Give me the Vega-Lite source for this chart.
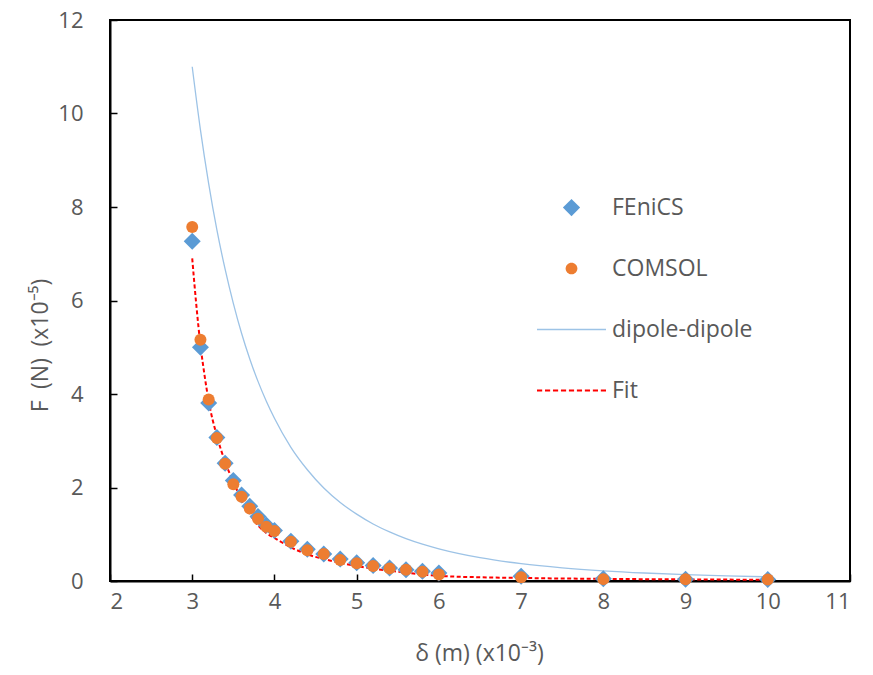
{
  "$schema": "https://vega.github.io/schema/vega-lite/v6.json",
  "width": 740,
  "height": 561,
  "autosize": "none",
  "padding": {"left": 110, "top": 20, "right": 23, "bottom": 94},
  "background": "white",
  "config": {
    "view": {"stroke": "black", "strokeWidth": 2},
    "font": "Open Sans",
    "axis": {"grid": false, "domainColor": "black", "domainWidth": 2, "tickColor": "black", "tickWidth": 1.5, "labelColor": "#595959", "titleColor": "#595959", "labelFont": "Open Sans", "titleFont": "Open Sans", "labelFontSize": 22, "titleFontSize": 23, "titleFontWeight": "normal"}
  },
  "data": {
    "values": [
      {"series": "FEniCS", "x": 3.0, "y": 7.27},
      {"series": "FEniCS", "x": 3.1, "y": 5.00},
      {"series": "FEniCS", "x": 3.2, "y": 3.81},
      {"series": "FEniCS", "x": 3.3, "y": 3.07},
      {"series": "FEniCS", "x": 3.4, "y": 2.52},
      {"series": "FEniCS", "x": 3.5, "y": 2.15},
      {"series": "FEniCS", "x": 3.6, "y": 1.84},
      {"series": "FEniCS", "x": 3.7, "y": 1.60},
      {"series": "FEniCS", "x": 3.8, "y": 1.38},
      {"series": "FEniCS", "x": 3.9, "y": 1.20},
      {"series": "FEniCS", "x": 4.0, "y": 1.08},
      {"series": "FEniCS", "x": 4.2, "y": 0.85},
      {"series": "FEniCS", "x": 4.4, "y": 0.68},
      {"series": "FEniCS", "x": 4.6, "y": 0.58},
      {"series": "FEniCS", "x": 4.8, "y": 0.47},
      {"series": "FEniCS", "x": 5.0, "y": 0.39},
      {"series": "FEniCS", "x": 5.2, "y": 0.33},
      {"series": "FEniCS", "x": 5.4, "y": 0.28},
      {"series": "FEniCS", "x": 5.6, "y": 0.24},
      {"series": "FEniCS", "x": 5.8, "y": 0.21},
      {"series": "FEniCS", "x": 6.0, "y": 0.17},
      {"series": "FEniCS", "x": 7.0, "y": 0.10},
      {"series": "FEniCS", "x": 8.0, "y": 0.05},
      {"series": "FEniCS", "x": 9.0, "y": 0.04},
      {"series": "FEniCS", "x": 10.0, "y": 0.03},
      {"series": "COMSOL", "x": 3.0, "y": 7.57},
      {"series": "COMSOL", "x": 3.1, "y": 5.16},
      {"series": "COMSOL", "x": 3.2, "y": 3.88},
      {"series": "COMSOL", "x": 3.3, "y": 3.06},
      {"series": "COMSOL", "x": 3.4, "y": 2.51},
      {"series": "COMSOL", "x": 3.5, "y": 2.07},
      {"series": "COMSOL", "x": 3.6, "y": 1.80},
      {"series": "COMSOL", "x": 3.7, "y": 1.55},
      {"series": "COMSOL", "x": 3.8, "y": 1.33},
      {"series": "COMSOL", "x": 3.9, "y": 1.16},
      {"series": "COMSOL", "x": 4.0, "y": 1.07},
      {"series": "COMSOL", "x": 4.2, "y": 0.84},
      {"series": "COMSOL", "x": 4.4, "y": 0.66},
      {"series": "COMSOL", "x": 4.6, "y": 0.58},
      {"series": "COMSOL", "x": 4.8, "y": 0.45},
      {"series": "COMSOL", "x": 5.0, "y": 0.38},
      {"series": "COMSOL", "x": 5.2, "y": 0.32},
      {"series": "COMSOL", "x": 5.4, "y": 0.27},
      {"series": "COMSOL", "x": 5.6, "y": 0.24},
      {"series": "COMSOL", "x": 5.8, "y": 0.20},
      {"series": "COMSOL", "x": 6.0, "y": 0.14},
      {"series": "COMSOL", "x": 7.0, "y": 0.08},
      {"series": "COMSOL", "x": 8.0, "y": 0.04},
      {"series": "COMSOL", "x": 9.0, "y": 0.035},
      {"series": "COMSOL", "x": 10.0, "y": 0.03},
      {"series": "dipole-dipole", "x": 3.0, "y": 11.0},
      {"series": "dipole-dipole", "x": 3.1, "y": 9.65},
      {"series": "dipole-dipole", "x": 3.2, "y": 8.50},
      {"series": "dipole-dipole", "x": 3.3, "y": 7.51},
      {"series": "dipole-dipole", "x": 3.4, "y": 6.67},
      {"series": "dipole-dipole", "x": 3.5, "y": 5.94},
      {"series": "dipole-dipole", "x": 3.6, "y": 5.30},
      {"series": "dipole-dipole", "x": 3.7, "y": 4.75},
      {"series": "dipole-dipole", "x": 3.8, "y": 4.27},
      {"series": "dipole-dipole", "x": 3.9, "y": 3.85},
      {"series": "dipole-dipole", "x": 4.0, "y": 3.48},
      {"series": "dipole-dipole", "x": 4.2, "y": 2.86},
      {"series": "dipole-dipole", "x": 4.4, "y": 2.38},
      {"series": "dipole-dipole", "x": 4.6, "y": 1.99},
      {"series": "dipole-dipole", "x": 4.8, "y": 1.68},
      {"series": "dipole-dipole", "x": 5.0, "y": 1.43},
      {"series": "dipole-dipole", "x": 5.2, "y": 1.22},
      {"series": "dipole-dipole", "x": 5.4, "y": 1.05},
      {"series": "dipole-dipole", "x": 5.6, "y": 0.906},
      {"series": "dipole-dipole", "x": 5.8, "y": 0.787},
      {"series": "dipole-dipole", "x": 6.0, "y": 0.688},
      {"series": "dipole-dipole", "x": 6.5, "y": 0.499},
      {"series": "dipole-dipole", "x": 7.0, "y": 0.371},
      {"series": "dipole-dipole", "x": 7.5, "y": 0.282},
      {"series": "dipole-dipole", "x": 8.0, "y": 0.218},
      {"series": "dipole-dipole", "x": 8.5, "y": 0.171},
      {"series": "dipole-dipole", "x": 9.0, "y": 0.136},
      {"series": "dipole-dipole", "x": 9.5, "y": 0.109},
      {"series": "dipole-dipole", "x": 10.0, "y": 0.089},
      {"series": "Fit", "x": 3.0, "y": 6.9},
      {"series": "Fit", "x": 3.05, "y": 5.9},
      {"series": "Fit", "x": 3.1, "y": 5.05},
      {"series": "Fit", "x": 3.15, "y": 4.4},
      {"series": "Fit", "x": 3.2, "y": 3.85},
      {"series": "Fit", "x": 3.3, "y": 3.1},
      {"series": "Fit", "x": 3.4, "y": 2.55},
      {"series": "Fit", "x": 3.5, "y": 2.12},
      {"series": "Fit", "x": 3.6, "y": 1.74},
      {"series": "Fit", "x": 3.7, "y": 1.43},
      {"series": "Fit", "x": 3.8, "y": 1.19},
      {"series": "Fit", "x": 3.9, "y": 1.03},
      {"series": "Fit", "x": 4.0, "y": 0.92},
      {"series": "Fit", "x": 4.2, "y": 0.72},
      {"series": "Fit", "x": 4.4, "y": 0.57},
      {"series": "Fit", "x": 4.6, "y": 0.47},
      {"series": "Fit", "x": 4.8, "y": 0.39},
      {"series": "Fit", "x": 5.0, "y": 0.32},
      {"series": "Fit", "x": 5.5, "y": 0.20},
      {"series": "Fit", "x": 6.0, "y": 0.11},
      {"series": "Fit", "x": 6.5, "y": 0.08},
      {"series": "Fit", "x": 7.0, "y": 0.065},
      {"series": "Fit", "x": 8.0, "y": 0.045},
      {"series": "Fit", "x": 9.0, "y": 0.035},
      {"series": "Fit", "x": 10.0, "y": 0.025}
    ]
  },
  "encoding": {
    "x": {
      "field": "x", "type": "quantitative",
      "scale": {"domain": [2, 11], "nice": false, "zero": false},
      "axis": {"values": [2, 3, 4, 5, 6, 7, 8, 9, 10, 11], "tickSize": -7, "labelPadding": 17, "title": "δ (m) (x10⁻³)", "titleX": 369, "titleY": 72, "titleBaseline": "middle", "titleAnchor": null}
    },
    "y": {
      "field": "y", "type": "quantitative",
      "scale": {"domain": [0, 12], "nice": false},
      "axis": {"values": [0, 2, 4, 6, 8, 10, 12], "tickSize": -7, "labelPadding": 34, "title": "F\u2002(N)\u2002(x10⁻⁵)", "titleX": -70, "titleY": 325, "titleAngle": 270, "titleAlign": "center", "titleBaseline": "middle", "titleAnchor": null}
    },
    "color": {
      "field": "series", "type": "nominal",
      "scale": {"domain": ["FEniCS", "COMSOL", "dipole-dipole", "Fit"], "range": ["#5B9BD5", "#ED7D31", "#9DC3E6", "#FF0000"]},
      "legend": {
        "orient": "none", "legendX": 427, "legendY": 157, "title": null,
        "symbolSize": 4761, "symbolStrokeWidth": 0, "clipHeight": 61, "rowPadding": 0, "padding": 0,
        "labelOffset": 6, "labelFontSize": 23, "labelFont": "Open Sans", "labelColor": "#595959", "labelBaseline": "middle",
        "encode": {
          "symbols": {
            "update": {
              "shape": {"signal": "datum.value === 'FEniCS' ? 'M-0.25,0L0,-0.25L0.25,0L0,0.25Z' : datum.value === 'COMSOL' ? 'M-0.17,0A0.17,0.17,0,1,0,0.17,0A0.17,0.17,0,1,0,-0.17,0Z' : datum.value === 'dipole-dipole' ? 'M-1,-0.019H1V0.019H-1Z' : 'M-1,-0.026H-0.85V0.026H-1ZM-0.769,-0.026H-0.619V0.026H-0.769ZM-0.5375,-0.026H-0.3875V0.026H-0.5375ZM-0.306,-0.026H-0.156V0.026H-0.306ZM-0.075,-0.026H0.075V0.026H-0.075ZM0.156,-0.026H0.306V0.026H0.156ZM0.3875,-0.026H0.5375V0.026H0.3875ZM0.619,-0.026H0.769V0.026H0.619ZM0.85,-0.026H1V0.026H0.85Z'"},
              "fill": {"scale": "color", "field": "value"},
              "stroke": {"value": "transparent"},
              "opacity": {"value": 1},
              "fillOpacity": {"value": 1}
            }
          }
        }
      }
    }
  },
  "layer": [
    {
      "transform": [{"filter": "datum.series === 'dipole-dipole'"}],
      "mark": {"type": "line", "strokeWidth": 1.3, "interpolate": "monotone"}
    },
    {
      "transform": [{"filter": "datum.series === 'Fit'"}],
      "mark": {"type": "line", "strokeWidth": 2, "strokeDash": [4, 2.5], "interpolate": "monotone"}
    },
    {
      "transform": [{"filter": "datum.series === 'FEniCS'"}],
      "mark": {"type": "point", "shape": "diamond", "size": 289, "filled": true, "opacity": 1, "strokeWidth": 0}
    },
    {
      "transform": [{"filter": "datum.series === 'COMSOL'"}],
      "mark": {"type": "point", "shape": "circle", "size": 144, "filled": true, "opacity": 1, "strokeWidth": 0}
    }
  ]
}
